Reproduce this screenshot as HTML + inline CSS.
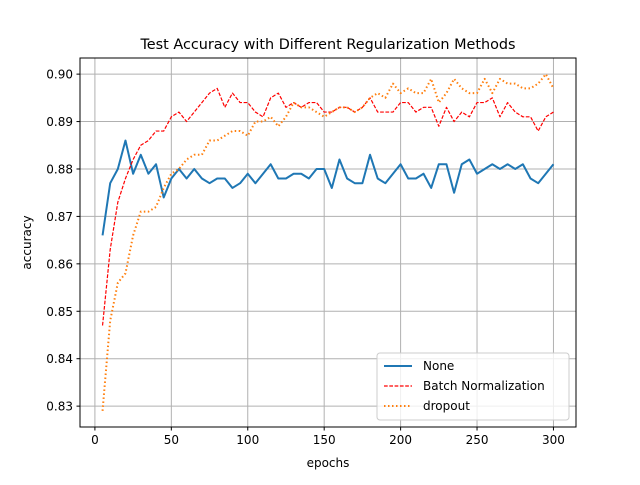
<!DOCTYPE html>
<html><head><meta charset="utf-8"><style>
html,body{margin:0;padding:0;background:#fff;}
svg text{font-family:"DejaVu Sans","Liberation Sans",sans-serif;}
</style></head><body>
<svg id="chart" width="640" height="480" viewBox="0 0 640 480" xmlns="http://www.w3.org/2000/svg">
<rect width="640" height="480" fill="#fff"/>
<text x="328" y="49" font-size="14.4" text-anchor="middle">Test Accuracy with Different Regularization Methods</text>
<g id="grid"></g>
<g id="series"></g>
<rect x="80" y="58" width="496" height="369" fill="none" stroke="#000" stroke-width="1"/>
<g id="ticks"></g>
<text x="328" y="467" font-size="12" text-anchor="middle">epochs</text>
<text transform="translate(31,242.5) rotate(-90)" font-size="12" text-anchor="middle">accuracy</text>
<g>
<rect x="377" y="353" width="192" height="67" rx="3" fill="#fff" fill-opacity="0.8" stroke="#ccc"/>
<g><line x1="384" y1="366" x2="412" y2="366" stroke="#1f77b4" stroke-width="2"/><text x="423" y="370" font-size="12">None</text></g>
<g><line x1="384" y1="386" x2="412" y2="386" stroke="#ff0000" stroke-width="1.2" stroke-dasharray="3.7,1.6"/><text x="423" y="390" font-size="12">Batch Normalization</text></g>
<g><line x1="384" y1="406" x2="412" y2="406" stroke="#ff7f0e" stroke-width="2" stroke-dasharray="1.5,2.5"/><text x="423" y="410" font-size="12">dropout</text></g>
</g>
</svg>
<script>
const epochs = Array.from({length:60},(_, i)=>5+5*i);
const noneVals = [.866,.877,.880,.886,.879,.883,.879,.881,.874,.878,.880,.878,.880,.878,.877,.878,.878,.876,.877,.879,.877,.879,.881,.878,.878,.879,.879,.878,.880,.880,.876,.882,.878,.877,.877,.883,.878,.877,.879,.881,.878,.878,.879,.876,.881,.881,.875,.881,.882,.879,.880,.881,.880,.881,.880,.881,.878,.877,.879,.881];
const bnVals = [.847,.863,.873,.878,.882,.885,.886,.888,.888,.891,.892,.890,.892,.894,.896,.897,.893,.896,.894,.894,.892,.891,.895,.896,.893,.894,.893,.894,.894,.892,.892,.893,.893,.892,.893,.895,.892,.892,.892,.894,.894,.892,.893,.893,.889,.893,.890,.892,.891,.894,.894,.895,.891,.894,.892,.891,.891,.888,.891,.892];
const dropoutVals = [.829,.848,.856,.858,.866,.871,.871,.872,.876,.879,.880,.882,.883,.883,.886,.886,.887,.888,.888,.887,.890,.890,.891,.889,.891,.894,.893,.893,.892,.891,.892,.893,.893,.892,.893,.895,.896,.895,.898,.896,.897,.896,.896,.899,.894,.896,.899,.897,.896,.896,.899,.896,.899,.898,.898,.897,.897,.898,.900,.897];
const xTicks = [0,50,100,150,200,250,300];
const yTicks = [0.83,0.84,0.85,0.86,0.87,0.88,0.89,0.90];

const X0=80,X1=576,Y0=58,Y1=427;
const xMin=-9.75,xMax=314.75,yMin=0.8256,yMax=0.9034;
const sx=v=>X0+(v-xMin)/(xMax-xMin)*(X1-X0);
const sy=v=>Y1-(v-yMin)/(yMax-yMin)*(Y1-Y0);
const NS='http://www.w3.org/2000/svg';
function mk(tag,attrs,parent){const e=document.createElementNS(NS,tag);for(const k in attrs)e.setAttribute(k,attrs[k]);parent.appendChild(e);return e;}
const grid=document.getElementById('grid'),ticks=document.getElementById('ticks'),series=document.getElementById('series');
xTicks.forEach(t=>{const x=sx(t);
  const g=mk('line',{x1:x,x2:x,y1:Y0,y2:Y1,stroke:'#b0b0b0','stroke-width':1},grid);
  
  
  mk('line',{x1:x,x2:x,y1:Y1,y2:Y1+3.5,stroke:'#000'},ticks);
  const tx=mk('text',{x:x,y:Y1+17,'font-size':12,'text-anchor':'middle'},ticks);tx.textContent=t;
  
  
});
yTicks.forEach(t=>{const y=sy(t);
  const g=mk('line',{x1:X0,x2:X1,y1:y,y2:y,stroke:'#b0b0b0','stroke-width':1},grid);
  
  
  mk('line',{x1:X0-3.5,x2:X0,y1:y,y2:y,stroke:'#000'},ticks);
  const tx=mk('text',{x:X0-7,y:y+4.5,'font-size':12,'text-anchor':'end'},ticks);tx.textContent=t.toFixed(2);
  
  
});
function line(vals,color,w,dash,name){
  const d=vals.map((v,i)=>(i?'L':'M')+sx(epochs[i]).toFixed(2)+','+sy(v).toFixed(2)).join('');
  const p=mk('path',{d:d,fill:'none',stroke:color,'stroke-width':w,'stroke-linejoin':'round'},series);
  if(dash)p.setAttribute('stroke-dasharray',dash);
  
  
}
line(noneVals,'#1f77b4',2,null,'series-none');
line(bnVals,'#ff0000',1.2,'3.7,1.6','series-batch-normalization');
line(dropoutVals,'#ff7f0e',2,'1.5,2.5','series-dropout');
</script>
</body></html>
